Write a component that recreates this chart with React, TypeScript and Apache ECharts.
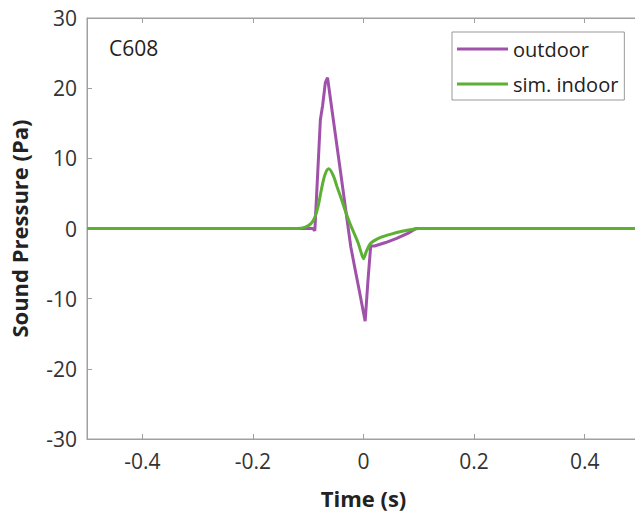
import React, { useEffect, useRef } from "react";
import * as echarts from "echarts";

const seriesNames = ["outdoor", "sim. indoor"];
const panelLabel = "C608";
const xTicks = [-0.4, -0.2, 0, 0.2, 0.4];

const outdoorTime = [-0.5, -0.092, -0.088, -0.084, -0.078, -0.074, -0.069, -0.065, -0.06, -0.05, -0.04, -0.03, -0.023, -0.015, -0.008, 0.0, 0.003, 0.008, 0.013, 0.02, 0.04, 0.06, 0.08, 0.095, 0.5];
const outdoorValue = [0, 0, -0.3, 6, 15.5, 17.5, 20.8, 21.5, 18.6, 12.9, 7.2, 1.4, -2.6, -5.9, -8.7, -12.0, -13.2, -7.5, -2.5, -2.5, -2.0, -1.4, -0.7, 0, 0];

const indoorTime = [-0.5, -0.12, -0.105, -0.095, -0.088, -0.082, -0.076, -0.07, -0.063, -0.055, -0.048, -0.04, -0.032, -0.025, -0.018, -0.01, -0.004, 0.0, 0.005, 0.012, 0.018, 0.03, 0.05, 0.07, 0.09, 0.1, 0.5];
const indoorValue = [0, 0, 0.2, 0.7, 1.6, 3.2, 5.6, 7.6, 8.5, 7.6, 6.0, 4.2, 2.3, 0.8, -0.5, -2.0, -3.5, -4.3, -3.3, -2.2, -1.8, -1.3, -0.8, -0.4, -0.1, 0, 0];

const colors = ["#a052aa", "#5cb033"];
const font = "Open Sans";

export default function App() {
  const ref = useRef<HTMLDivElement>(null);
  useEffect(() => {
    if (!ref.current) return;
    const chart = echarts.init(ref.current, null, { renderer: "svg" });
    const axisColor = "#a0a0a0";
    const labelColor = "#333";
    chart.setOption({
      animation: false,
      textStyle: { fontFamily: font },
      grid: { left: 84, right: 10, top: 18, bottom: 73, show: true, borderColor: axisColor, borderWidth: 1 },
      legend: {
        data: seriesNames,
        orient: "vertical",
        left: 452,
        top: 32,
        padding: [6, 6, 5, 5],
        itemGap: 13,
        itemWidth: 51,
        itemHeight: 3,
        icon: "rect",
        borderColor: "#999",
        borderWidth: 1,
        textStyle: { fontSize: 20, color: "#222", fontFamily: font, lineHeight: 22 },
      },
      xAxis: [
        {
          type: "value",
          min: -0.5,
          max: 0.5,
          name: "Time (s)",
          nameLocation: "middle",
          nameGap: 48,
          nameTextStyle: { fontSize: 22, fontWeight: "bold", color: "#222", fontFamily: font },
          axisLine: { show: true, onZero: false, lineStyle: { color: axisColor } },
          axisTick: { show: true, inside: true, length: 5, customValues: xTicks, lineStyle: { color: axisColor } },
          axisLabel: { customValues: xTicks, fontSize: 21, color: labelColor, margin: 11, fontFamily: font },
          splitLine: { show: false },
        },
        {
          type: "value",
          position: "top",
          min: -0.5,
          max: 0.5,
          axisLine: { show: true, onZero: false, lineStyle: { color: axisColor } },
          axisTick: { show: true, inside: true, length: 5, customValues: xTicks, lineStyle: { color: axisColor } },
          axisLabel: { show: false },
          splitLine: { show: false },
        },
      ],
      yAxis: [
        {
          type: "value",
          min: -30,
          max: 30,
          interval: 10,
          name: "Sound Pressure (Pa)",
          nameLocation: "middle",
          nameGap: 57,
          nameTextStyle: { fontSize: 22, fontWeight: "bold", color: "#222", fontFamily: font },
          axisLine: { show: true, onZero: false, lineStyle: { color: axisColor } },
          axisTick: { show: true, inside: true, length: 5, lineStyle: { color: axisColor } },
          axisLabel: { fontSize: 21, color: labelColor, margin: 10, fontFamily: font },
          splitLine: { show: false },
        },
        {
          type: "value",
          position: "right",
          min: -30,
          max: 30,
          interval: 10,
          axisLine: { show: true, onZero: false, lineStyle: { color: axisColor } },
          axisTick: { show: true, inside: true, length: 5, lineStyle: { color: axisColor } },
          axisLabel: { show: false },
          splitLine: { show: false },
        },
      ],
      graphic: [
        {
          type: "text",
          left: 109,
          top: 37,
          style: { text: panelLabel, fontSize: 21, fill: "#222", fontFamily: font },
        },
      ],
      series: [
        {
          name: seriesNames[0],
          type: "line",
          data: outdoorTime.map((t, i) => [t, outdoorValue[i]]),
          showSymbol: false,
          symbol: "none",
          lineStyle: { width: 3, color: colors[0] },
          itemStyle: { color: colors[0] },
          z: 2,
        },
        {
          name: seriesNames[1],
          type: "line",
          data: indoorTime.map((t, i) => [t, indoorValue[i]]),
          showSymbol: false,
          symbol: "none",
          smooth: 0.3,
          lineStyle: { width: 3, color: colors[1] },
          itemStyle: { color: colors[1] },
          z: 3,
        },
      ],
    });
    return () => chart.dispose();
  }, []);
  return (
    <div style={{ position: "absolute", left: 0, top: 0, width: 635, height: 514, overflow: "hidden", background: "#fff" }}>
      <div ref={ref} style={{ width: 650, height: 514 }} />
    </div>
  );
}
